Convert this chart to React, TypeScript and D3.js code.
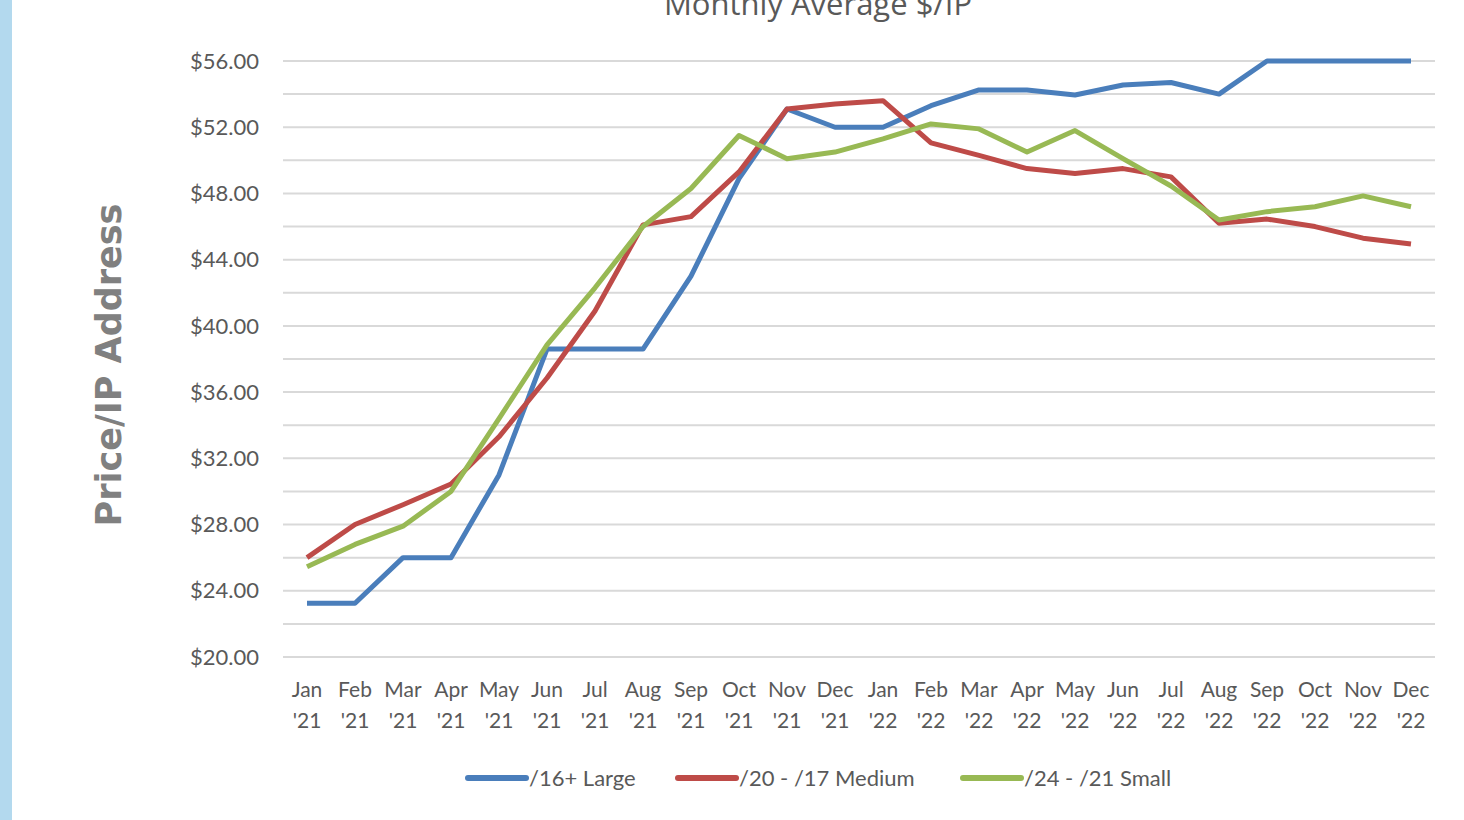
import React from "react";
import * as d3 from "d3";

const months = ["Jan", "Feb", "Mar", "Apr", "May", "Jun", "Jul", "Aug", "Sep", "Oct", "Nov", "Dec", "Jan", "Feb", "Mar", "Apr", "May", "Jun", "Jul", "Aug", "Sep", "Oct", "Nov", "Dec"];
const years = ["'21", "'21", "'21", "'21", "'21", "'21", "'21", "'21", "'21", "'21", "'21", "'21", "'22", "'22", "'22", "'22", "'22", "'22", "'22", "'22", "'22", "'22", "'22", "'22"];

const large = [23.25, 23.25, 26.0, 26.0, 31.0, 38.6, 38.6, 38.6, 43.0, 48.9, 53.1, 52.0, 52.0, 53.3, 54.25, 54.25, 53.95, 54.55, 54.7, 54.0, 56.0, 56.0, 56.0, 56.0];
const medium = [26.0, 28.0, 29.2, 30.45, 33.3, 36.85, 40.9, 46.1, 46.6, 49.3, 53.1, 53.4, 53.6, 51.05, 50.3, 49.5, 49.2, 49.5, 49.0, 46.2, 46.45, 46.0, 45.3, 44.95];
const small = [25.45, 26.8, 27.9, 30.0, 34.4, 38.85, 42.3, 46.0, 48.3, 51.5, 50.1, 50.5, 51.3, 52.2, 51.9, 50.5, 51.8, 50.1, 48.45, 46.4, 46.9, 47.2, 47.85, 47.2];

const seriesNames = ["/16+ Large", "/20 - /17 Medium", "/24 - /21 Small"];
const seriesColors = ["#4a7ebb", "#be4b48", "#98b954"];
const yTicks = [20, 24, 28, 32, 36, 40, 44, 48, 52, 56];
const yGrid = [20, 22, 24, 26, 28, 30, 32, 34, 36, 38, 40, 42, 44, 46, 48, 50, 52, 54, 56];

const W = 1464;
const H = 820;
const left = 283;
const right = 1435;
const top = 61;
const bottom = 657;

export default function App() {
  const idx = months.map((_, i) => i);
  const x = d3.scaleBand<number>().domain(idx).range([left, right]).padding(0);
  const cx = (i: number) => (x(i) as number) + x.bandwidth() / 2;
  const y = d3.scaleLinear().domain([20, 56]).range([bottom, top]);
  const line = d3
    .line<number>()
    .x((_, i) => cx(i))
    .y((d) => y(d));
  const series = [large, medium, small];
  const legendX = [468, 678, 963];

  return (
    <svg
      width={W}
      height={H}
      style={{ position: "absolute", left: 0, top: 0, background: "#fff" }}
      fontFamily="'Open Sans', sans-serif"
    >
      <rect x={0} y={0} width={W} height={H} fill="#fff" />
      <rect x={0} y={0} width={12} height={H} fill="#b3d9ee" />
      <text x={818} y={15} textAnchor="middle" fontSize={31} fill="#595959">
        Monthly Average $/IP
      </text>
      {yGrid.map((v) => (
        <line key={v} x1={left} x2={right} y1={y(v)} y2={y(v)} stroke="#d9d9d9" strokeWidth={2} />
      ))}
      {yTicks.map((v) => (
        <text key={v} x={259} y={y(v)} dy="0.35em" textAnchor="end" fontSize={22} fill="#595959" fontFamily="Lato, sans-serif">
          {d3.format("$.2f")(v)}
        </text>
      ))}
      <text
        transform={`translate(121,365) rotate(-90)`}
        textAnchor="middle"
        fontSize={35}
        fontWeight="bold"
        fill="#808080"
        fontFamily="'DejaVu Sans', sans-serif"
      >
        Price/IP Address
      </text>
      {idx.map((i) => (
        <g key={i} fontFamily="Lato, sans-serif" fontSize={21} fill="#595959" textAnchor="middle">
          <text x={cx(i)} y={697}>{months[i]}</text>
          <text x={cx(i)} y={728}>{years[i]}</text>
        </g>
      ))}
      {series.map((s, k) => (
        <path key={k} d={line(s) || ""} fill="none" stroke={seriesColors[k]} strokeWidth={5} strokeLinejoin="round" />
      ))}
      {seriesNames.map((n, k) => (
        <g key={n}>
          <line x1={legendX[k]} x2={legendX[k] + 58} y1={778} y2={778} stroke={seriesColors[k]} strokeWidth={6} strokeLinecap="round" />
          <text x={legendX[k] + 61} y={778} dy="0.35em" fontSize={22} fill="#595959" fontFamily="Lato, sans-serif">
            {n}
          </text>
        </g>
      ))}
    </svg>
  );
}
